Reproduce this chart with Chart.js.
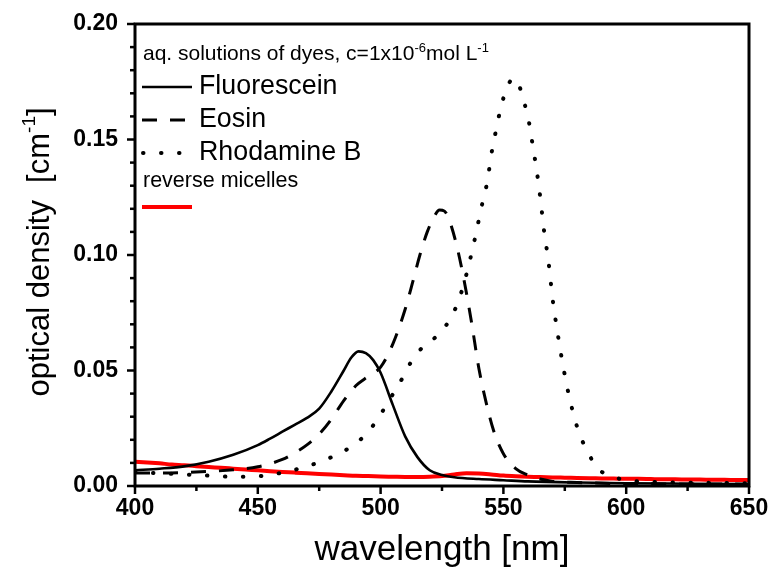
<!DOCTYPE html>
<html><head><meta charset="utf-8">
<script src="https://cdn.jsdelivr.net/npm/chart.js@4.4.0/dist/chart.umd.min.js"></script>
<style>html,body{margin:0;padding:0;background:#fff;}</style>
</head><body>
<canvas id="c" width="772" height="577" style="width:772px;height:577px;display:block"></canvas>
<script>
// ---- data ----
const fluorX = [400,410,420,430,440,450,455,460,465,470,475,480,485,488,491,494,497,500,505,510,515,520,525,530,540,550,560,580,600,625,650];
const fluorY = [0.0068,0.0075,0.0085,0.0105,0.0135,0.0177,0.0205,0.0235,0.0265,0.0295,0.0335,0.041,0.050,0.0555,0.0583,0.0575,0.0545,0.049,0.035,0.0215,0.0125,0.0068,0.0048,0.0038,0.003,0.0025,0.002,0.0015,0.0012,0.001,0.0008];

const eosinX = [400,410,420,430,440,450,460,465,470,475,480,485,490,495,500,505,510,513,516,519,522,524,526,528,531,534,537,540,543,546,550,555,560,565,570,580,600,625,650];
const eosinY = [0.0056,0.0056,0.0058,0.0063,0.0070,0.0083,0.0115,0.0143,0.0178,0.0225,0.029,0.037,0.0435,0.0475,0.0515,0.0615,0.0765,0.088,0.100,0.110,0.117,0.1195,0.119,0.115,0.104,0.089,0.071,0.051,0.036,0.024,0.014,0.0075,0.0047,0.003,0.002,0.0015,0.001,0.0009,0.0008];

const rhodX = [400,410,420,430,440,450,460,470,480,488,495,500,504,508,512,517,524,529,532,534,536,537.5,539,540.5,542,543.5,545,547,549,551,554,556.5,558.5,560.5,562,563.5,565,566.5,568.5,570,572,574.3,577,580.8,584,588,594,600,610,630,650];
const rhodY = [0.006,0.0055,0.005,0.0045,0.004,0.0042,0.0058,0.0085,0.0125,0.017,0.0235,0.031,0.038,0.045,0.053,0.060,0.066,0.0736,0.081,0.088,0.096,0.103,0.110,0.118,0.125,0.132,0.143,0.154,0.164,0.171,0.1765,0.173,0.166,0.157,0.147,0.137,0.125,0.111,0.096,0.0814,0.0667,0.052,0.0377,0.023,0.0156,0.008,0.0043,0.0025,0.0018,0.0014,0.0012];

const micX = [400,405,410,415,420,425,430,435,440,445,450,455,460,465,470,475,480,485,490,495,500,505,510,515,520,525,530,535,540,545,550,555,560,565,570,575,580,585,590,595,600,605,610,615,620,625,630,635,640,645,650];
const micY = [0.0105,0.0102,0.0098,0.0093,0.0090,0.0086,0.0082,0.0079,0.0075,0.0071,0.0068,0.0064,0.0061,0.0058,0.0055,0.0052,0.0050,0.0047,0.0044,0.0043,0.0041,0.0040,0.0039,0.0039,0.0040,0.0043,0.0050,0.0055,0.0054,0.0050,0.0045,0.0042,0.0040,0.0039,0.0037,0.0036,0.0035,0.0034,0.0033,0.0032,0.0031,0.0031,0.0030,0.0029,0.0029,0.0028,0.0028,0.0027,0.0027,0.0026,0.0026];

const xTicksMajor = [400,450,500,550,600,650];
const yTicksMajor = [0.00,0.05,0.10,0.15,0.20];
const seriesNames = ['Fluorescein','Eosin','Rhodamine B'];
const legendHeader = [['aq. solutions of dyes, c=1x10',0],['-6',1],['mol L',0],['-1',1]];
const micLabel = 'reverse micelles';
const xTitle = 'wavelength [nm]';
const yTitleParts = [['optical density  [cm',0],['-1',1],[']',0]];

const FONT = '"Liberation Sans", Arial, sans-serif';
const pts = (xs, ys) => xs.map((x, i) => ({x, y: ys[i]}));

const styles = [
  {borderColor:'#000', borderWidth:2.6, borderDash:[]},
  {borderColor:'#000', borderWidth:3, borderDash:[15,13]},
  {borderColor:'#000', borderWidth:4, borderDash:[0.5,17.5], borderCapStyle:'round'},
  {borderColor:'#ff0000', borderWidth:4, borderDash:[]}
];

function richWidth(ctx, parts, size, supSize){
  let w = 0;
  for (const [t, s] of parts){ ctx.font = (s ? supSize : size) + 'px ' + FONT; w += ctx.measureText(t).width; }
  return w;
}
function drawRich(ctx, parts, x, y, size, supSize, rise){
  let cx = x;
  for (const [t, s] of parts){
    ctx.font = (s ? supSize : size) + 'px ' + FONT;
    ctx.fillText(t, cx, s ? y - rise : y);
    cx += ctx.measureText(t).width;
  }
}

const deco = {
  id: 'deco',
  afterDraw(chart){
    const ctx = chart.ctx, a = chart.chartArea;
    const xs = chart.scales.x, ys = chart.scales.y;
    ctx.save();
    ctx.strokeStyle = '#000';
    ctx.lineCap = 'butt';
    // frame
    ctx.lineWidth = 3;
    ctx.strokeRect(a.left, a.top, a.right - a.left, a.bottom - a.top);
    // ticks
    ctx.lineWidth = 2.5;
    for (let v = 400; v <= 650; v += 25){
      const p = xs.getPixelForValue(v);
      const len = (v % 50 === 0) ? 8 : 5;
      ctx.beginPath(); ctx.moveTo(p, a.bottom); ctx.lineTo(p, a.bottom + len); ctx.stroke();
    }
    for (let i = 0; i <= 20; i++){
      const v = i / 100;
      const p = ys.getPixelForValue(v);
      const len = (i % 5 === 0) ? 8 : 5;
      ctx.beginPath(); ctx.moveTo(a.left, p); ctx.lineTo(a.left - len, p); ctx.stroke();
    }
    // titles
    ctx.fillStyle = '#000';
    ctx.textBaseline = 'alphabetic';
    ctx.textAlign = 'left';
    ctx.font = '35px ' + FONT;
    const xw = ctx.measureText(xTitle).width;
    ctx.fillText(xTitle, (a.left + a.right) / 2 - xw / 2, 560);
    ctx.save();
    ctx.translate(49, 252);
    ctx.rotate(-Math.PI / 2);
    const yw = richWidth(ctx, yTitleParts, 31, 19);
    drawRich(ctx, yTitleParts, -yw / 2, 0, 31, 19, 14);
    ctx.restore();
    // legend
    const lx = 142;
    drawRich(ctx, legendHeader, 143, 60, 21, 13, 8);
    const rows = [87, 120, 153];
    const ds = chart.data.datasets;
    for (let i = 0; i < 3; i++){
      const st = ds[i];
      ctx.save();
      ctx.strokeStyle = st.borderColor;
      ctx.lineWidth = st.borderWidth;
      ctx.setLineDash(st.borderDash || []);
      ctx.lineCap = st.borderCapStyle || 'butt';
      ctx.beginPath(); ctx.moveTo(lx + (i === 2 ? 1 : 0), rows[i]); ctx.lineTo(lx + 50, rows[i]); ctx.stroke();
      ctx.restore();
      ctx.font = '26.8px ' + FONT;
      ctx.fillText(seriesNames[i], 199, rows[i] + 7);
    }
    ctx.font = '21.5px ' + FONT;
    ctx.fillText(micLabel, 143, 187);
    ctx.strokeStyle = ds[3].borderColor;
    ctx.lineWidth = ds[3].borderWidth;
    ctx.setLineDash([]);
    ctx.beginPath(); ctx.moveTo(142, 207); ctx.lineTo(192, 207); ctx.stroke();
    ctx.restore();
  }
};

const mk = (label, xs, ys, st) => Object.assign({
  label, data: pts(xs, ys), pointRadius: 0, fill: false,
  cubicInterpolationMode: 'monotone', borderJoinStyle: 'round'
}, st);

new Chart(document.getElementById('c'), {
  type: 'line',
  data: {
    datasets: [
      mk(seriesNames[0], fluorX, fluorY, styles[0]),
      mk(seriesNames[1], eosinX, eosinY, styles[1]),
      mk(seriesNames[2], rhodX, rhodY, styles[2]),
      mk(micLabel, micX, micY, styles[3])
    ]
  },
  options: {
    responsive: false,
    devicePixelRatio: 1,
    animation: false,
    layout: {padding: {left: 0, right: 23, top: 24, bottom: 0}},
    plugins: {legend: {display: false}, tooltip: {enabled: false}},
    scales: {
      x: {
        type: 'linear', min: 400, max: 650,
        afterBuildTicks: s => { s.ticks = xTicksMajor.map(v => ({value: v})); },
        afterFit: s => { s.height = 91; s.paddingLeft = 0; s.paddingRight = 0; },
        border: {display: false},
        grid: {display: false, drawTicks: false},
        ticks: {color: '#000', padding: 9, font: {family: FONT, size: 23, weight: 'bold'}, maxRotation: 0}
      },
      y: {
        type: 'linear', min: 0, max: 0.2,
        afterBuildTicks: s => { s.ticks = yTicksMajor.map(v => ({value: v})); },
        afterFit: s => { s.width = 135; s.paddingTop = 0; s.paddingBottom = 0; },
        border: {display: false},
        grid: {display: false, drawTicks: false},
        ticks: {color: '#000', padding: 17, font: {family: FONT, size: 23, weight: 'bold'},
                callback: v => Number(v).toFixed(2)}
      }
    }
  },
  plugins: [deco]
});
</script>
</body></html>
